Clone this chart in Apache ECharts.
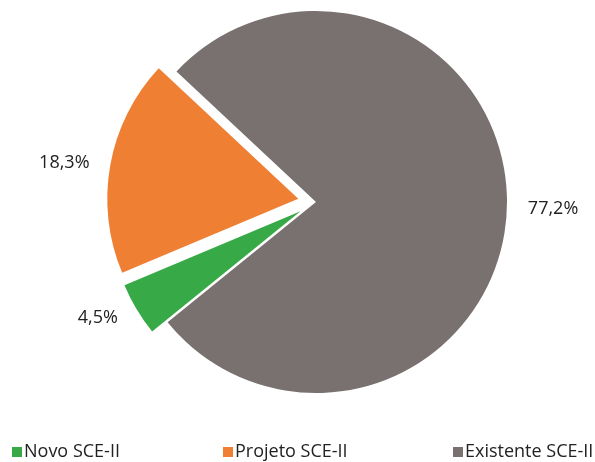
<!DOCTYPE html>
<html>
<head>
<meta charset="utf-8">
<script src="https://cdn.jsdelivr.net/npm/echarts@6/dist/echarts.min.js"></script>
<style>
  html, body { margin: 0; padding: 0; background: #fff; }
  #chart { width: 595px; height: 462px; }
</style>
</head>
<body>
<div id="chart"></div>
<script>
// Distribuição por tipo de certificado
const categories = ['Novo SCE-II', 'Projeto SCE-II', 'Existente SCE-II'];
const values = [4.5, 18.3, 77.2];
const colors = ['#37a946', '#ef7f33', '#79716f'];
const exploded = [true, true, false];

const chart = echarts.init(document.getElementById('chart'));

const fontFamily = '"Open Sans", "Noto Sans", sans-serif';
const legendLeft = [7, 218, 448];

const option = {
    animation: false,
    legend: categories.map((name, i) => ({
        data: [name],
        left: legendLeft[i],
        top: 438,
        icon: 'rect',
        itemWidth: 10,
        itemHeight: 10,
        selectedMode: false,
        textStyle: {
            color: '#222',
            fontSize: 18,
            fontFamily: fontFamily,
            padding: [0, 0, 0, -3]
        }
    })),
    series: [{
        type: 'pie',
        center: [316, 202],
        radius: 191,
        startAngle: 219,
        clockwise: true,
        selectedMode: 'multiple',
        selectedOffset: 18,
        avoidLabelOverlap: false,
        label: {
            show: true,
            position: 'outside',
            formatter: p => p.value.toFixed(1).replace('.', ',') + '%',
            color: '#222',
            fontSize: 18,
            fontFamily: fontFamily
        },
        labelLine: {
            show: false,
            length: 16,
            length2: 0
        },
        emphasis: { disabled: true },
        data: categories.map((name, i) => ({
            name: name,
            value: values[i],
            selected: exploded[i],
            itemStyle: { color: colors[i] }
        }))
    }]
};

chart.setOption(option);
</script>
</body>
</html>
